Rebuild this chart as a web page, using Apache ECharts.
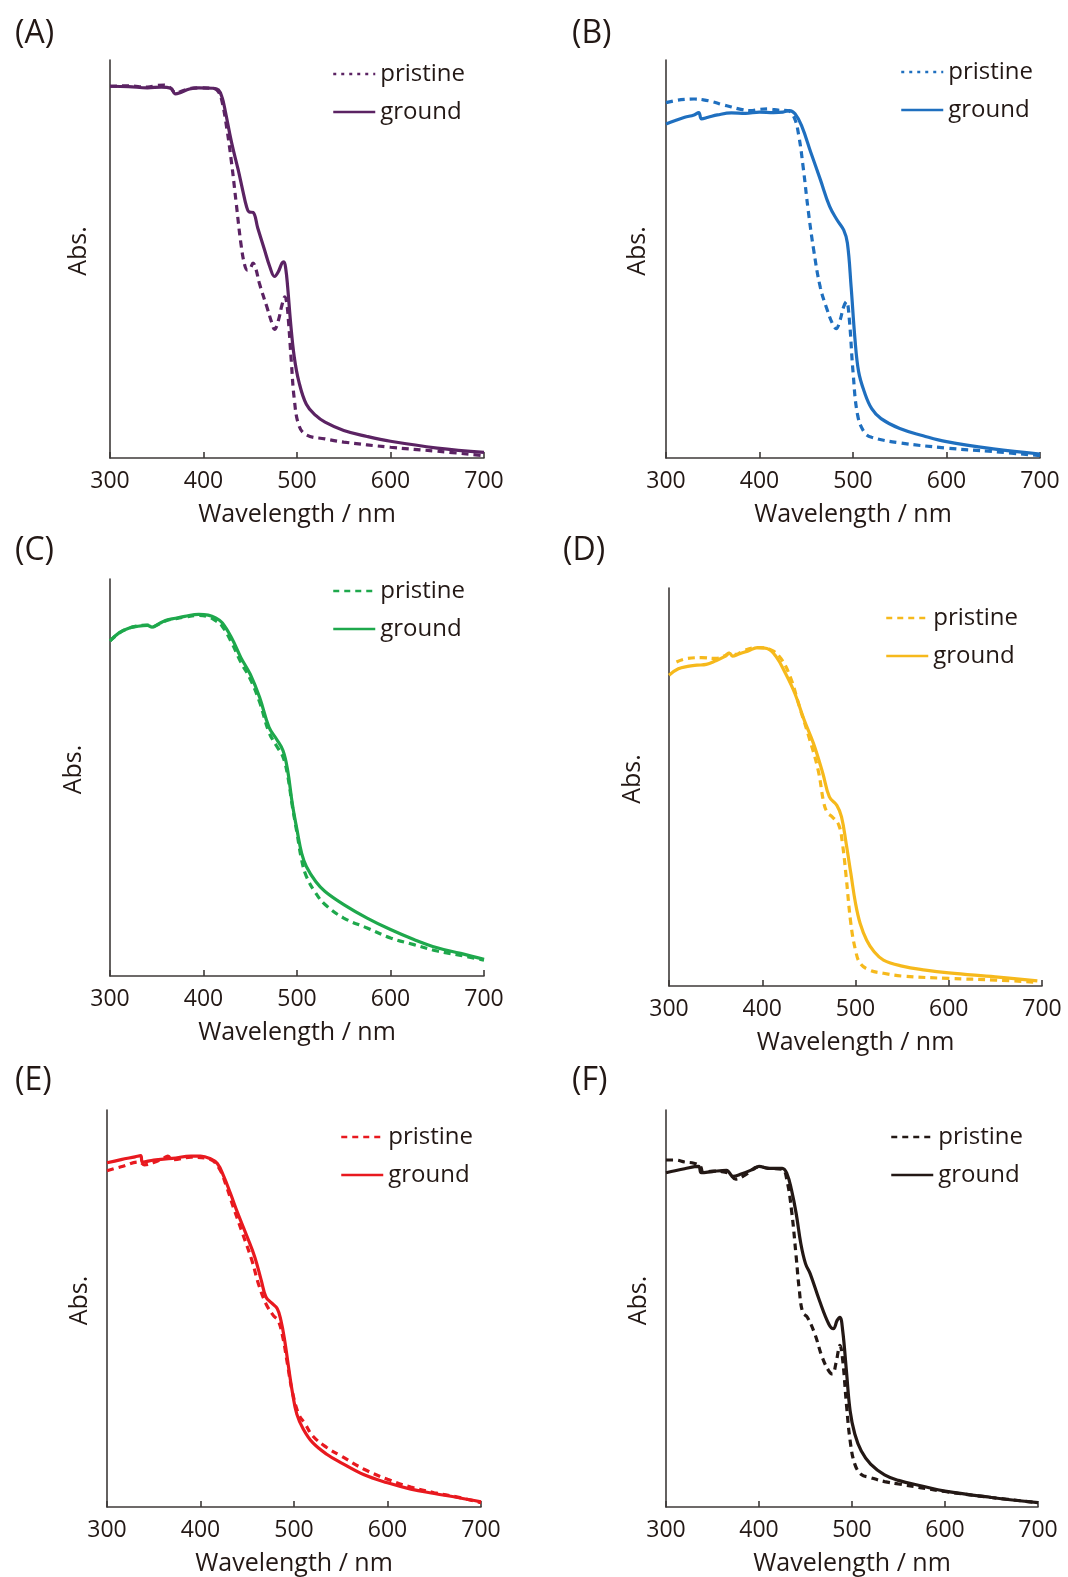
<!DOCTYPE html>
<html>
<head>
<meta charset="utf-8">
<script src="https://cdn.jsdelivr.net/npm/echarts@6/dist/echarts.min.js"></script>
<style>
html,body{margin:0;padding:0;background:#fff;}
#c{width:1068px;height:1577px;}
</style>
</head>
<body>
<div id="c"></div>
<script>
// ---------- data (wavelength nm, normalized absorbance) ----------
var panelLabels = ['(A)', '(B)', '(C)', '(D)', '(E)', '(F)'];
var legendNames = ['pristine', 'ground'];
var xTicks = [300, 400, 500, 600, 700];

var aPristine = [[300,0.934],[320,0.935],[340,0.932],[350,0.936],[358,0.937],[365,0.929],[370,0.918],[375,0.92],[385,0.928],[395,0.930],[410,0.929],[416,0.92],[420,0.894],[425,0.827],[430,0.742],[435,0.64],[440,0.539],[444,0.485],[447,0.472],[450,0.476],[453,0.49],[456,0.475],[460,0.437],[468,0.378],[473,0.34],[476,0.323],[480,0.345],[484,0.385],[487,0.405],[489,0.39],[491,0.34],[494,0.24],[497,0.15],[502,0.082],[510,0.058],[530,0.048],[550,0.04],[600,0.027],[650,0.017],[700,0.006]];
var aGround = [[300,0.934],[320,0.933],[340,0.930],[355,0.932],[365,0.929],[370,0.915],[375,0.918],[385,0.927],[395,0.930],[410,0.929],[416,0.925],[420,0.905],[423,0.875],[430,0.793],[437,0.725],[442,0.672],[446,0.632],[449,0.618],[453,0.617],[458,0.578],[465,0.525],[471,0.480],[476,0.456],[480,0.468],[484,0.49],[486,0.493],[488,0.475],[490,0.430],[493,0.344],[497,0.255],[502,0.192],[510,0.135],[520,0.107],[530,0.09],[550,0.069],[575,0.054],[600,0.042],[650,0.025],[700,0.014]];

var bPristine = [[300,0.893],[310,0.898],[320,0.901],[330,0.902],[340,0.90],[350,0.895],[360,0.888],[370,0.882],[380,0.876],[390,0.873],[400,0.876],[410,0.877],[420,0.874],[430,0.873],[437,0.856],[442,0.81],[447,0.725],[452,0.624],[458,0.522],[465,0.429],[472,0.375],[478,0.338],[482,0.325],[486,0.345],[490,0.38],[493,0.393],[496,0.35],[500,0.217],[505,0.107],[512,0.065],[520,0.052],[550,0.038],[600,0.025],[650,0.016],[700,0.006]];
var bGround = [[300,0.839],[310,0.848],[320,0.856],[330,0.862],[335,0.868],[338,0.852],[345,0.856],[355,0.862],[370,0.867],[385,0.866],[400,0.869],[415,0.868],[425,0.869],[432,0.873],[438,0.865],[445,0.835],[455,0.767],[465,0.70],[475,0.632],[483,0.598],[490,0.573],[494,0.54],[498,0.43],[502,0.302],[506,0.217],[512,0.167],[520,0.124],[530,0.099],[550,0.074],[575,0.056],[600,0.041],[650,0.023],[700,0.01]];

var cPristine = [[300,0.844],[310,0.864],[320,0.876],[330,0.882],[340,0.884],[345,0.879],[352,0.886],[360,0.895],[370,0.90],[380,0.904],[395,0.908],[405,0.905],[413,0.895],[420,0.881],[430,0.84],[440,0.79],[450,0.748],[460,0.69],[470,0.614],[478,0.58],[485,0.552],[490,0.505],[495,0.428],[500,0.36],[505,0.292],[510,0.251],[520,0.209],[530,0.18],[550,0.146],[575,0.121],[600,0.096],[625,0.079],[650,0.063],[675,0.052],[700,0.04]];
var cGround = [[300,0.844],[310,0.865],[320,0.876],[330,0.881],[340,0.883],[345,0.879],[352,0.887],[360,0.896],[370,0.901],[380,0.906],[395,0.911],[405,0.909],[413,0.902],[420,0.89],[430,0.852],[440,0.802],[450,0.76],[460,0.702],[470,0.627],[478,0.597],[485,0.568],[490,0.518],[495,0.434],[500,0.368],[505,0.309],[510,0.276],[520,0.238],[530,0.213],[550,0.18],[575,0.146],[600,0.117],[625,0.092],[650,0.071],[675,0.057],[700,0.042]];

var dPristine = [[308,0.814],[320,0.823],[335,0.825],[350,0.823],[360,0.83],[365,0.837],[372,0.833],[380,0.843],[395,0.85],[410,0.844],[420,0.823],[430,0.777],[440,0.701],[450,0.626],[460,0.542],[466,0.46],[470,0.435],[475,0.425],[482,0.405],[486,0.358],[490,0.274],[495,0.157],[500,0.09],[505,0.057],[515,0.04],[530,0.032],[550,0.025],[600,0.019],[650,0.015],[695,0.009]];
var dGround = [[300,0.781],[310,0.797],[320,0.803],[330,0.806],[340,0.808],[350,0.817],[360,0.828],[365,0.836],[368,0.829],[375,0.834],[385,0.842],[395,0.85],[405,0.848],[415,0.827],[425,0.785],[435,0.735],[445,0.668],[455,0.609],[465,0.534],[472,0.475],[480,0.454],[485,0.425],[490,0.358],[495,0.283],[500,0.208],[505,0.157],[512,0.115],[520,0.086],[530,0.065],[550,0.05],[575,0.04],[600,0.033],[650,0.023],[695,0.013]];

var ePristine = [[300,0.847],[315,0.857],[335,0.869],[340,0.862],[350,0.868],[360,0.878],[365,0.884],[370,0.875],[390,0.881],[410,0.876],[420,0.853],[428,0.806],[435,0.756],[445,0.689],[455,0.621],[462,0.562],[470,0.512],[478,0.482],[483,0.47],[488,0.428],[493,0.36],[498,0.293],[505,0.234],[512,0.209],[520,0.179],[535,0.15],[550,0.129],[575,0.095],[600,0.07],[625,0.05],[650,0.036],[675,0.025],[700,0.011]];
var eGround = [[300,0.867],[315,0.875],[330,0.882],[336,0.885],[338,0.869],[350,0.874],[370,0.878],[390,0.884],[400,0.884],[410,0.878],[418,0.865],[425,0.832],[432,0.79],[440,0.739],[450,0.68],[458,0.63],[465,0.571],[470,0.529],[476,0.514],[482,0.50],[486,0.47],[490,0.42],[494,0.355],[498,0.293],[503,0.234],[510,0.196],[520,0.162],[535,0.133],[550,0.112],[575,0.081],[600,0.061],[625,0.045],[650,0.034],[675,0.024],[700,0.013]];

var fPristine = [[300,0.874],[310,0.874],[320,0.869],[330,0.866],[337,0.858],[340,0.843],[350,0.846],[360,0.845],[368,0.84],[375,0.826],[385,0.836],[400,0.857],[410,0.853],[425,0.851],[430,0.823],[435,0.747],[440,0.63],[443,0.554],[447,0.49],[452,0.478],[460,0.436],[468,0.377],[475,0.343],[479,0.335],[483,0.365],[487,0.407],[490,0.37],[494,0.259],[498,0.167],[503,0.108],[510,0.082],[520,0.074],[535,0.064],[550,0.058],[600,0.039],[650,0.024],[700,0.011]];
var fGround = [[300,0.842],[320,0.852],[335,0.858],[338,0.842],[350,0.845],[365,0.848],[372,0.833],[380,0.838],[395,0.852],[400,0.858],[410,0.853],[425,0.853],[430,0.84],[435,0.798],[440,0.739],[445,0.663],[450,0.613],[455,0.588],[465,0.52],[475,0.461],[480,0.449],[484,0.47],[487,0.478],[490,0.444],[494,0.343],[498,0.242],[503,0.184],[510,0.141],[520,0.108],[535,0.081],[550,0.067],[575,0.053],[600,0.04],[650,0.024],[700,0.011]];

var pristineSets = [aPristine, bPristine, cPristine, dPristine, ePristine, fPristine];
var groundSets = [aGround, bGround, cGround, dGround, eGround, fGround];

// ---------- styling / layout ----------
var colors = ['#5b2363', '#1f6fbf', '#1ea84c', '#f6b91c', '#e8191f', '#231815'];
var grids = [
  {left:110, top:60,   width:374, height:398},
  {left:666, top:60,   width:374, height:398},
  {left:110, top:579,  width:374, height:397},
  {left:669, top:588,  width:373, height:398},
  {left:107, top:1110, width:374, height:397},
  {left:666, top:1110, width:372, height:397}
];
var labelPos = [[10,13],[567,13],[10,530],[558,530],[10,1060],[567,1060]];
var legendPos = [[332,61],[900,59],[332,578],[885,605],[340,1124],[890,1124]];
var absGap = [19, 16, 24, 24, 15, 15];
var pristineIconDash = [[3,5],[3,5],[6,5],[6,5],[6,5],[6,5]];
var txt = '#231815';
var axisCol = '#3e3a39';
var FONT = '"Open Sans", "Noto Sans", Arial, sans-serif';

var option = {
  backgroundColor: '#fff',
  animation: false,
  title: [], grid: [], xAxis: [], yAxis: [], legend: [], series: []
};

for (var i = 0; i < 6; i++) {
  var g = grids[i];
  option.grid.push({left:g.left, top:g.top, width:g.width, height:g.height, containLabel:false});
  option.title.push({
    text: panelLabels[i], left: labelPos[i][0], top: labelPos[i][1],
    textStyle: {fontFamily: FONT, fontSize: 32, fontWeight: 'normal', color: txt}
  });
  option.xAxis.push({
    type: 'value', gridIndex: i, min: xTicks[0], max: xTicks[xTicks.length-1], interval: 100,
    name: 'Wavelength / nm', nameLocation: 'middle', nameGap: 44,
    nameTextStyle: {fontFamily: FONT, fontSize: 25, color: txt},
    axisLine: {show: true, lineStyle: {color: axisCol, width: 1.6}},
    axisTick: {show: true, inside: true, length: 6, lineStyle: {color: axisCol, width: 1.6}},
    axisLabel: {fontFamily: FONT, fontSize: 23, color: txt, margin: 12},
    splitLine: {show: false}
  });
  option.yAxis.push({
    type: 'value', gridIndex: i, min: 0, max: 1,
    name: 'Abs.', nameLocation: 'middle', nameGap: absGap[i],
    nameTextStyle: {fontFamily: FONT, fontSize: 25, color: txt, padding: [0, 0, 0, 16]},
    axisLine: {show: true, lineStyle: {color: axisCol, width: 1.6}},
    axisTick: {show: false}, axisLabel: {show: false}, splitLine: {show: false}
  });
  var pn = legendNames[0] + ' ' + panelLabels[i];
  var gn = legendNames[1] + ' ' + panelLabels[i];
  option.legend.push({
    orient: 'vertical', left: legendPos[i][0], top: legendPos[i][1],
    itemWidth: 42, itemHeight: 14, itemGap: 12, padding: 0,
    data: [
      {name: pn, itemStyle: {opacity: 0}, lineStyle: {type: pristineIconDash[i], width: 2.5, color: colors[i]}},
      {name: gn, itemStyle: {opacity: 0}, lineStyle: {type: 'solid', width: 2.5, color: colors[i]}}
    ],
    formatter: function (name) { return name.split(' ')[0]; },
    textStyle: {fontFamily: FONT, fontSize: 24, color: txt, lineHeight: 26},
    selectedMode: false
  });
  option.series.push({
    name: pn, type: 'line', xAxisIndex: i, yAxisIndex: i, data: pristineSets[i],
    symbol: 'none', smooth: 0.4, z: 2,
    lineStyle: {color: colors[i], width: 3.2, type: [7, 5], cap: 'butt'},
    itemStyle: {color: colors[i]}
  });
  option.series.push({
    name: gn, type: 'line', xAxisIndex: i, yAxisIndex: i, data: groundSets[i],
    symbol: 'none', smooth: 0.4, z: 3,
    lineStyle: {color: colors[i], width: 3.2, type: 'solid'},
    itemStyle: {color: colors[i]}
  });
}

var chart = echarts.init(document.getElementById('c'), null, {renderer: 'canvas'});
chart.setOption(option);
</script>
</body>
</html>
